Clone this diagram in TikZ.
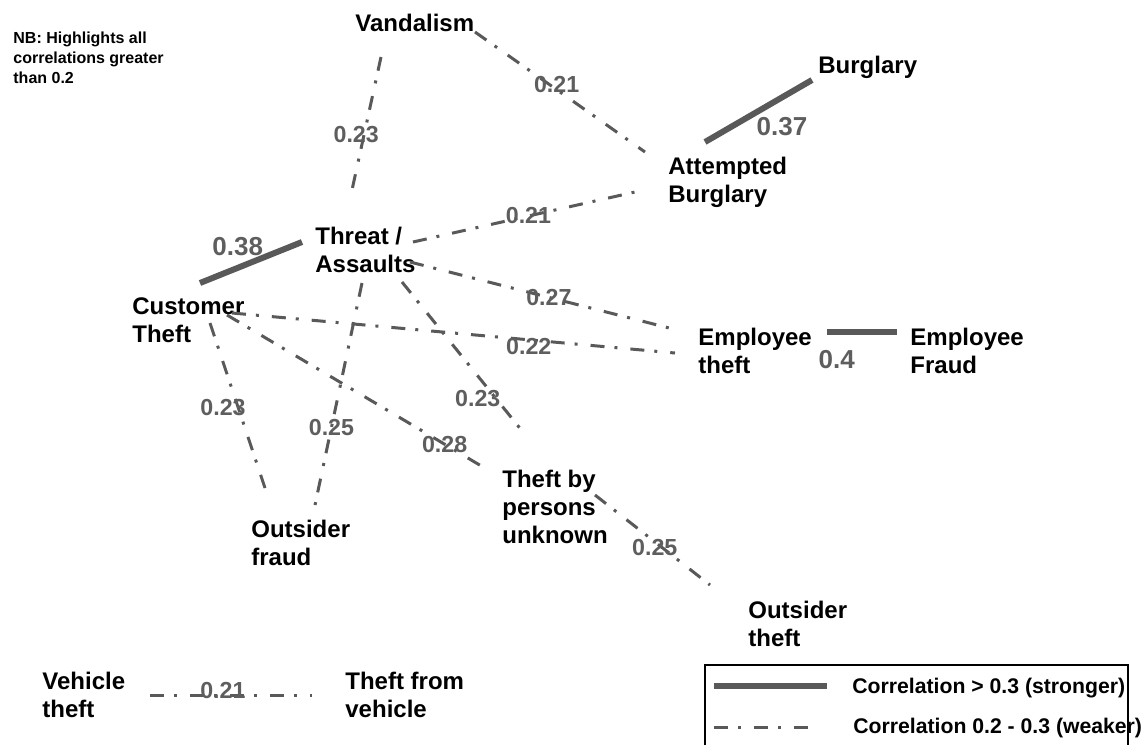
\documentclass[tikz,border=0pt]{standalone}
\usepackage{fontspec}
\setmainfont{Liberation Sans}
\definecolor{corrline}{HTML}{595959}
\definecolor{corrnum}{HTML}{5E5E5E}
\tikzset{
	crime/.style = {anchor=north west, inner sep=0pt, align=left, font=\bfseries\fontsize{12}{14}\selectfont},
	weak/.style = {draw=corrline, line width=1.5pt, dash pattern=on 7pt off 5pt on 1.5pt off 6.5pt},
	strong/.style = {draw=corrline, line width=3pt},
	wlab/.style = {text=corrnum, inner sep=0pt, font=\bfseries\fontsize{11.6}{13}\selectfont},
	slab/.style = {text=corrnum, inner sep=0pt, font=\bfseries\fontsize{13}{15}\selectfont},
	legtext/.style = {anchor=base west, inner sep=0pt, font=\bfseries\fontsize{10.6}{12}\selectfont}
}

\begin{document}
\begin{tikzpicture}[x=0.5pt, y=-0.5pt]
		\useasboundingbox (0,0) rectangle (1145,745);
		\node[crime, font=\bfseries\fontsize{8}{10}\selectfont] (nb) at (13,32) {NB: Highlights all\\correlations greater\\than 0.2};
		\node[crime] (vand) at (355,14) {Vandalism};
		\node[crime] (burg) at (818,56) {Burglary};
		\node[crime] (att) at (668,157) {Attempted\\Burglary};
		\node[crime] (threat) at (315,227) {Threat /\\Assaults};
		\node[crime] (cust) at (132,297) {Customer\\Theft};
		\node[crime] (empt) at (698,328) {Employee\\theft};
		\node[crime] (empf) at (910,328) {Employee\\Fraud};
		\node[crime] (tbp) at (502,470) {Theft by\\persons\\unknown};
		\node[crime] (ofraud) at (251,520) {Outsider\\fraud};
		\node[crime] (otheft) at (748,601) {Outsider\\theft};
		\node[crime] (veh) at (42,672) {Vehicle\\theft};
		\node[crime] (tfv) at (345,672) {Theft from\\vehicle};
		\draw[weak] ([shift={(26,43)}]vand.north west) -- node[wlab, pos=0.58, xshift=-4pt] {0.23} ([shift={(37,-37)}]threat.north west);
		\draw[weak] ([shift={(120,18)}]vand.north west) -- node[wlab, pos=0.48, yshift=2.5pt] {0.21} ([shift={(-23,-5)}]att.north west);
		\draw[strong] ([shift={(37,-15)}]att.north west) -- node[slab, pos=0.72, yshift=-14.5pt] {0.37} ([shift={(-6,24)}]burg.north west);
		\draw[weak] ([shift={(98,15)}]threat.north west) -- node[wlab, pos=0.52] {0.21} ([shift={(-33,35)}]att.north west);
		\draw[strong] ([shift={(68,-14)}]cust.north west) -- node[slab, pos=0.37, yshift=10.5pt] {0.38} ([shift={(-13,15)}]threat.north west);
		\draw[weak] ([shift={(95,35)}]threat.north west) -- node[wlab, pos=0.52] {0.27} ([shift={(-21,2)}]empt.north west);
		\draw[weak] ([shift={(100,16)}]cust.north west) -- node[wlab, pos=0.67, yshift=-3.5pt] {0.22} ([shift={(-23,25)}]empt.north west);
		\draw[weak] ([shift={(87,55)}]threat.north west) -- node[wlab, pos=0.75, xshift=-9pt] {0.23} ([shift={(25,-33)}]tbp.north west);
		\draw[weak] ([shift={(47,56)}]threat.north west) -- node[wlab, pos=0.65] {0.25} ([shift={(64,-15)}]ofraud.north west);
		\draw[weak] ([shift={(78,26)}]cust.north west) -- node[wlab, pos=0.51, xshift=-7.5pt] {0.23} ([shift={(14,-32)}]ofraud.north west);
		\draw[weak] ([shift={(95,18)}]cust.north west) -- node[wlab, pos=0.85] {0.28} ([shift={(-19,-3)}]tbp.north west);
		\draw[weak] ([shift={(93,25)}]tbp.north west) -- node[wlab, pos=0.52, yshift=-3pt] {0.25} ([shift={(-38,-16)}]otheft.north west);
		\draw[strong] ([shift={(129,4)}]empt.north west) -- node[slab, pos=0.14, yshift=-14pt] {0.4} ([shift={(-13,4)}]empf.north west);
		\draw[weak] ([shift={(108,23)}]veh.north west) -- node[wlab, pos=0.45, yshift=2.5pt] {0.21} ([shift={(-33,23)}]tfv.north west);
		\draw[line width=1pt] (705,745) |- (1128,665) -- (1128,745);
		\node[legtext] (legstrong) at (852,693) {Correlation > 0.3 (stronger)};
		\node[legtext] (legweak) at (853,733) {Correlation 0.2 - 0.3 (weaker)};
		\draw[strong] ([shift={(-138,-7)}]legstrong.base west) -- ++(113,0);
		\draw[weak] ([shift={(-139,-6)}]legweak.base west) -- ++(103,0);
	\end{tikzpicture}
\end{document}
